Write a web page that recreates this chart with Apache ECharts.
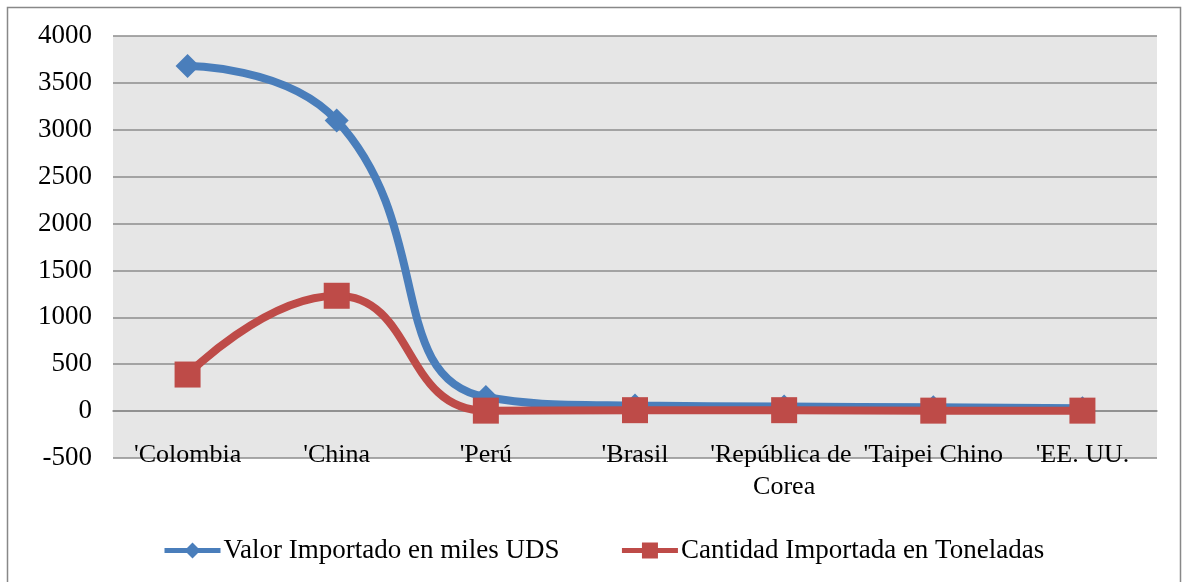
<!DOCTYPE html>
<html>
<head>
<meta charset="utf-8">
<script src="https://cdn.jsdelivr.net/npm/echarts@6/dist/echarts.min.js"></script>
<style>
  html, body { margin: 0; padding: 0; background: #fff; }
  #chart { width: 1188px; height: 582px; }
</style>
</head>
<body>
<div id="chart"></div>
<script>
// datos
var paises = ["'Colombia", "'China", "'Perú", "'Brasil", "'República de Corea", "'Taipei Chino", "'EE. UU."]
var valorImportado = [3680, 3100, 150, 60, 50, 40, 30]
var cantidadImportada = [390, 1230, 5, 10, 10, 5, 5]
var serieNombres = ['Valor Importado en miles UDS', 'Cantidad Importada en Toneladas']

var chart = echarts.init(document.getElementById('chart'))
var fuente = '"Liberation Serif", "DejaVu Serif", serif'

chart.setOption({
  animation: false,
  textStyle: { fontFamily: fuente },
  // borde exterior del grafico
  graphic: [{
    type: 'rect',
    shape: { x: 7.5, y: 7.5, width: 1173, height: 590 },
    style: { fill: 'none', stroke: '#888', lineWidth: 1.5 },
    silent: true
  }],
  grid: {
    left: 113,
    right: 31,
    top: 36,
    bottom: 124,
    show: true,
    backgroundColor: '#e6e6e6',
    borderWidth: 0
  },
  legend: {
    top: 532,
    left: 157,
    itemWidth: 56,
    itemHeight: 20,
    itemGap: 60,
    lineStyle: { width: 5 },
    textStyle: { fontSize: 27, color: '#000', fontFamily: fuente, padding: [0, 0, 0, -2] },
    data: serieNombres
  },
  xAxis: {
    type: 'category',
    data: paises,
    boundaryGap: true,
    // el eje se dibuja en el cero (47px por encima del borde inferior)
    offset: -47,
    axisLine: { show: true, onZero: false, lineStyle: { color: '#8c8c8c', width: 1.5 } },
    axisTick: { show: false },
    axisLabel: {
      margin: 28,
      fontSize: 26,
      color: '#000',
      fontFamily: fuente,
      lineHeight: 32,
      width: 180,
      overflow: 'break',
      interval: 0
    }
  },
  yAxis: {
    type: 'value',
    min: -500,
    max: 4000,
    interval: 500,
    axisLine: { show: false },
    axisTick: { show: false },
    axisLabel: {
      fontSize: 27,
      color: '#000',
      fontFamily: fuente,
      margin: 21,
      formatter: function (v) { return String(v) }
    },
    splitLine: { lineStyle: { color: '#8c8c8c', width: 1.5 } }
  },
  series: [{
    name: serieNombres[0],
    type: 'line',
    data: valorImportado,
    smooth: 0.5,
    symbol: 'diamond',
    symbolSize: 24,
    itemStyle: { color: '#4a7ebb' },
    lineStyle: { width: 8, color: '#4a7ebb' }
  }, {
    name: serieNombres[1],
    type: 'line',
    data: cantidadImportada,
    smooth: 0.5,
    symbol: 'rect',
    symbolSize: 26,
    itemStyle: { color: '#be4b48' },
    lineStyle: { width: 8, color: '#be4b48' }
  }]
})
</script>
</body>
</html>
